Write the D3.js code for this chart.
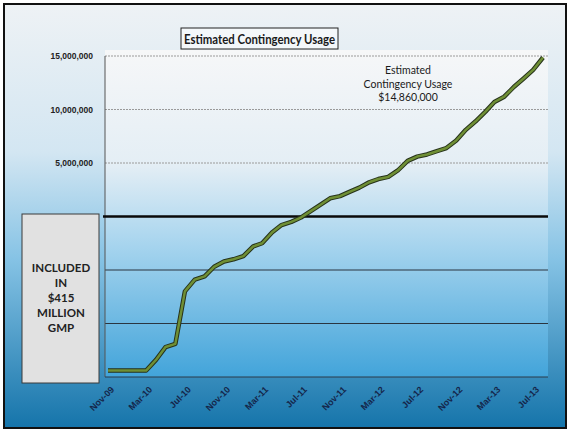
<!DOCTYPE html>
<html>
<head>
<meta charset="utf-8">
<script src="https://cdnjs.cloudflare.com/ajax/libs/d3/7.8.5/d3.min.js"></script>
<style>
  body { margin: 0; padding: 0; background: #fff; }
  svg { display: block; font-family: Lato, "Open Sans", sans-serif; }
</style>
</head>
<body>
<svg id="chart" width="569" height="431"></svg>
<script>
// monthly points, Nov-09 .. Aug-13
var months = ["2009-11","2009-12","2010-01","2010-02","2010-03","2010-04","2010-05","2010-06",
  "2010-07","2010-08","2010-09","2010-10","2010-11","2010-12","2011-01","2011-02","2011-03",
  "2011-04","2011-05","2011-06","2011-07","2011-08","2011-09","2011-10","2011-11","2011-12",
  "2012-01","2012-02","2012-03","2012-04","2012-05","2012-06","2012-07","2012-08","2012-09",
  "2012-10","2012-11","2012-12","2013-01","2013-02","2013-03","2013-04","2013-05","2013-06",
  "2013-07","2013-08"];
// usage above the GMP line (dollars), negative part is inside the GMP
var usage = [-14.4,-14.4,-14.4,-14.4,-14.4,-13.4,-12.2,-11.9,-7.0,-5.9,-5.6,-4.7,-4.2,-4.0,
  -3.7,-2.8,-2.5,-1.5,-0.8,-0.5,-0.1,0.5,1.1,1.7,1.9,2.3,2.7,3.2,3.5,3.7,4.3,5.2,5.6,5.8,
  6.1,6.4,7.1,8.1,8.9,9.8,10.7,11.2,12.1,12.9,13.7,14.86].map(function(d){ return d * 1e6; });
var xTickLabels = ["Nov-09","Mar-10","Jul-10","Nov-10","Mar-11","Jul-11","Nov-11","Mar-12",
  "Jul-12","Nov-12","Mar-13","Jul-13"];
var yTickValues = [5000000, 10000000, 15000000];
var gridValues = [-10000000, -5000000, 5000000, 10000000, 15000000];
var boxLines = ["INCLUDED", "IN", "$415", "MILLION", "GMP"];
var noteLines = ["Estimated", "Contingency Usage", "$14,860,000"];

var parseMonth = d3.timeParse("%Y-%m");
var parseLabel = d3.timeParse("%b-%y");
var data = months.map(function(m, i){ return {date: parseMonth(m), value: usage[i]}; });

var svg = d3.select("#chart");
var defs = svg.append("defs");

var bg = defs.append("linearGradient").attr("id", "bgGrad")
  .attr("x1", 0).attr("y1", 0).attr("x2", 0).attr("y2", 1);
bg.append("stop").attr("offset", "0%").attr("stop-color", "#eef2f5");
bg.append("stop").attr("offset", "35%").attr("stop-color", "#d3e6f2");
bg.append("stop").attr("offset", "60%").attr("stop-color", "#86c3e5");
bg.append("stop").attr("offset", "100%").attr("stop-color", "#1574aa");

var pg = defs.append("linearGradient").attr("id", "plotGrad")
  .attr("x1", 0).attr("y1", 0).attr("x2", 0).attr("y2", 1);
pg.append("stop").attr("offset", "0%").attr("stop-color", "#f6f7f8");
pg.append("stop").attr("offset", "35%").attr("stop-color", "#e4eef5");
pg.append("stop").attr("offset", "60%").attr("stop-color", "#a6d4ee");
pg.append("stop").attr("offset", "100%").attr("stop-color", "#42a4da");

// outer frame
svg.append("rect").attr("x", 4).attr("y", 4).attr("width", 562).attr("height", 424)
  .attr("fill", "url(#bgGrad)").attr("stroke", "#111").attr("stroke-width", 2);

var plotLeft = 105, plotRight = 548, plotTop = 56, plotBottom = 377;

var x = d3.scaleTime()
  .domain([parseMonth("2009-11"), parseMonth("2013-08")])
  .range([108, 543]);
var y = d3.scaleLinear()
  .domain([-15000000, 15000000])
  .range([plotBottom, plotTop]);

svg.append("rect").attr("x", plotLeft).attr("y", plotTop - 6)
  .attr("width", plotRight - plotLeft).attr("height", plotBottom - plotTop + 6)
  .attr("fill", "url(#plotGrad)");

// gridlines
svg.selectAll(".grid").data(gridValues).enter().append("line")
  .attr("class", "grid")
  .attr("x1", plotLeft).attr("x2", plotRight)
  .attr("y1", function(d){ return y(d); }).attr("y2", function(d){ return y(d); })
  .attr("stroke", function(d){ return d > 0 ? "#9a9a9a" : "#2a3540"; })
  .attr("stroke-width", 1)
  .attr("stroke-dasharray", function(d){ return d > 0 ? "2,1" : null; });

// axes
svg.append("line").attr("x1", plotLeft).attr("x2", plotLeft)
  .attr("y1", plotTop).attr("y2", plotBottom).attr("stroke", "#555").attr("stroke-width", 1);
svg.append("line").attr("x1", plotLeft).attr("x2", plotRight)
  .attr("y1", plotBottom).attr("y2", plotBottom).attr("stroke", "#2a3a4a").attr("stroke-width", 1);

// zero (GMP) line
svg.append("line").attr("x1", plotLeft - 2).attr("x2", plotRight)
  .attr("y1", y(0)).attr("y2", y(0)).attr("stroke", "#0a0a0a").attr("stroke-width", 2.5);

var yAxis = svg.append("g").attr("transform", "translate(" + plotLeft + ",0)")
  .call(d3.axisLeft(y).tickValues(yTickValues).tickFormat(d3.format(",")).tickSize(0).tickPadding(12));
yAxis.select(".domain").remove();
yAxis.selectAll("text").attr("font-size", 8.5).attr("font-weight", "bold").attr("fill", "#222");

var xAxis = svg.append("g").attr("transform", "translate(0," + plotBottom + ")")
  .call(d3.axisBottom(x).tickValues(xTickLabels.map(parseLabel)).tickFormat(d3.timeFormat("%b-%y")).tickSize(0));
xAxis.select(".domain").remove();
xAxis.selectAll("text")
  .attr("font-size", 9).attr("font-weight", "bold").attr("fill", "#15264a")
  .attr("text-anchor", "end")
  .attr("transform", "translate(4,11) rotate(-45)")
  .attr("dy", "0.35em").attr("y", 0);

// usage line
var line = d3.line()
  .x(function(d){ return x(d.date); })
  .y(function(d){ return y(d.value); });

svg.append("path").datum(data).attr("d", line)
  .attr("fill", "none").attr("stroke", "#26321a").attr("stroke-width", 4.5)
  .attr("stroke-linejoin", "round");
svg.append("path").datum(data).attr("d", line)
  .attr("fill", "none").attr("stroke", "#6f8f35").attr("stroke-width", 2.5)
  .attr("stroke-linejoin", "round");

// title
svg.append("rect").attr("x", 181).attr("y", 28).attr("width", 157).attr("height", 21)
  .attr("fill", "#fff").attr("fill-opacity", 0.5).attr("stroke", "#222").attr("stroke-width", 1);
svg.append("text").attr("x", 259.5).attr("y", 43.5).attr("text-anchor", "middle")
  .attr("font-size", 13).attr("font-weight", "bold").attr("fill", "#1a1a1a")
  .attr("textLength", 151).attr("lengthAdjust", "spacingAndGlyphs")
  .text("Estimated Contingency Usage");

// annotation
svg.selectAll(".note").data(noteLines).enter().append("text")
  .attr("class", "note")
  .attr("x", 408).attr("y", function(d, i){ return 74 + i * 13.5; })
  .attr("text-anchor", "middle").attr("font-size", 10.5).attr("fill", "#1a1a1a")
  .text(function(d){ return d; });

// GMP box
svg.append("rect").attr("x", 22).attr("y", 214).attr("width", 77).attr("height", 169)
  .attr("fill", "#e1e1e1").attr("stroke", "#3a3a3a").attr("stroke-width", 1);
svg.selectAll(".box").data(boxLines).enter().append("text")
  .attr("class", "box")
  .attr("x", 61).attr("y", function(d, i){ return 272 + i * 15; })
  .attr("text-anchor", "middle").attr("font-size", 11.5).attr("font-weight", "bold").attr("fill", "#222")
  .text(function(d){ return d; });
</script>
</body>
</html>
